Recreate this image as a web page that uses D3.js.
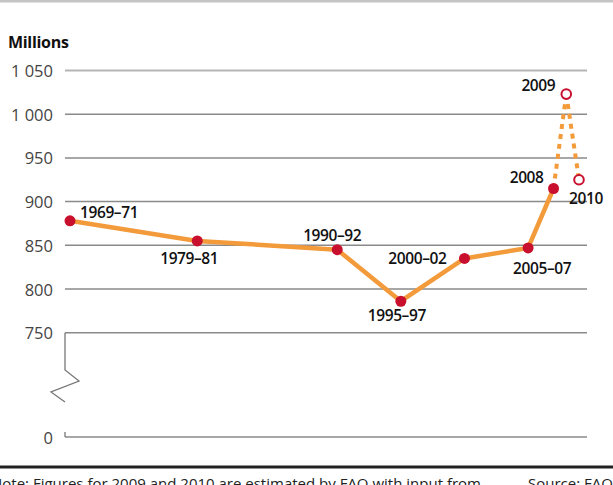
<!DOCTYPE html>
<html><head><meta charset="utf-8">
<script src="https://cdn.jsdelivr.net/npm/d3@7"></script>
<style>body{margin:0;background:#fff}svg{display:block}</style>
</head><body>
<svg id="c" width="613" height="485"></svg>
<script>
// ---- data ----
const periods = ["1969–71","1979–81","1990–92","1995–97","2000–02","2005–07","2008","2009","2010"];
const midYears = [1970,1980,1991,1996,2001,2006,2008,2009,2010];
const hungry = [878,855,845,786,835,847,915,1023,925];
const estimated = [false,false,false,false,false,false,false,true,true];
const yTicks = [0,750,800,850,900,950,1000,1050];
const yTickLabels = ["0","750","800","850","900","950","1 000","1 050"];
const unitLabel = "Millions";
const noteText = "Note: Figures for 2009 and 2010 are estimated by FAO with input from";
const sourceText = "Source: FAO";

// ---- label placement (styling) ----
const labelStyle = [
  {a:"start",dx:10,dy:-9},{a:"middle",dx:-8,dy:17},{a:"middle",dx:-5,dy:-15},
  {a:"middle",dx:-4,dy:14},{a:"end",dx:-18,dy:0},{a:"start",dx:-15,dy:20},
  {a:"end",dx:-10,dy:-11},{a:"end",dx:-11,dy:-9},{a:"start",dx:-10,dy:18}
];

const svg = d3.select("#c");
const F = "'Open Sans','Noto Sans',sans-serif";
const x = d3.scaleLinear().domain([1970,2010]).range([70,579]);
const y = d3.scaleLinear().domain([0,750,1050]).range([437,332.7,70.5]);
const L = 65, R = 587;

// top rule
svg.append("rect").attr("x",0).attr("y",0).attr("width",613).attr("height",2.5).attr("fill","#c4c4c4");

// gridlines
svg.append("g").selectAll("line").data(yTicks).join("line")
  .attr("x1",L).attr("x2",R).attr("y1",d=>y(d)).attr("y2",d=>y(d))
  .attr("stroke",d=>d===1050?"#b5b5b5":"#8a8a8a").attr("stroke-width",d=>d===1050?2.2:1.5);

// tick labels
svg.append("g").selectAll("text").data(yTicks).join("text")
  .attr("x",53).attr("y",d=>y(d)).attr("text-anchor","end").attr("dominant-baseline","central")
  .attr("font-family",F).attr("font-size",16.5).attr("fill","#444")
  .text((d,i)=>yTickLabels[i]);

// axis break
const brk = d3.path();
brk.moveTo(L,y(750)); brk.lineTo(L,370); brk.lineTo(L+14,381); brk.lineTo(L-14,392); brk.lineTo(L,402);
svg.append("path").attr("d",brk.toString()).attr("fill","none").attr("stroke","#777").attr("stroke-width",1.3);
svg.append("line").attr("x1",L).attr("x2",L).attr("y1",y(0)-5).attr("y2",y(0)).attr("stroke","#777").attr("stroke-width",1.3);

// unit label
svg.append("text").attr("x",8).attr("y",48).attr("font-family",F).attr("font-weight",700)
  .attr("font-size",16).attr("fill","#111").attr("letter-spacing",-0.3).text(unitLabel);

const pts = periods.map((p,i)=>({p,x:midYears[i],v:hungry[i],est:estimated[i],s:labelStyle[i]}));
const line = d3.line().x(d=>x(d.x)).y(d=>y(d.v));
const solid = pts.filter(d=>!d.est);
const lastSolid = solid[solid.length-1];
const est = pts.filter(d=>d.est);

// dashed estimated segments
svg.append("path").attr("d",line([lastSolid,est[0]])).attr("fill","none")
  .attr("stroke","#f39a3a").attr("stroke-width",4).attr("stroke-dasharray","5,5");
svg.append("path").attr("d",line([est[0],est[1]])).attr("fill","none")
  .attr("stroke","#f39a3a").attr("stroke-width",4).attr("stroke-dasharray","5,5");

// solid line
svg.append("path").attr("d",line(solid)).attr("fill","none")
  .attr("stroke","#f39a3a").attr("stroke-width",4.5).attr("stroke-linejoin","round");

// dots
svg.append("g").selectAll("circle").data(pts).join("circle")
  .attr("cx",d=>x(d.x)).attr("cy",d=>y(d.v)).attr("r",d=>d.est?4.8:5.5)
  .attr("fill",d=>d.est?"#fff":"#c8102e").attr("stroke","#c8102e").attr("stroke-width",d=>d.est?2:0);

// point labels
svg.append("g").selectAll("text").data(pts).join("text")
  .attr("x",d=>x(d.x)+d.s.dx).attr("y",d=>y(d.v)+d.s.dy)
  .attr("text-anchor",d=>d.s.a).attr("dominant-baseline","central")
  .attr("font-family",F).attr("font-weight",600).attr("font-size",15.5).attr("fill","#111")
  .attr("letter-spacing",-0.4).text(d=>d.p);

// bottom rule
svg.append("rect").attr("x",0).attr("y",465.5).attr("width",613).attr("height",3).attr("fill","#222");

// note & source (cut off at bottom, as in reference)
svg.append("text").attr("x",-9).attr("y",489).attr("font-family",F).attr("font-size",15).attr("fill","#222").text(noteText);
svg.append("text").attr("x",528).attr("y",489).attr("font-family",F).attr("font-size",15).attr("fill","#222").text(sourceText);
</script>
</body></html>
